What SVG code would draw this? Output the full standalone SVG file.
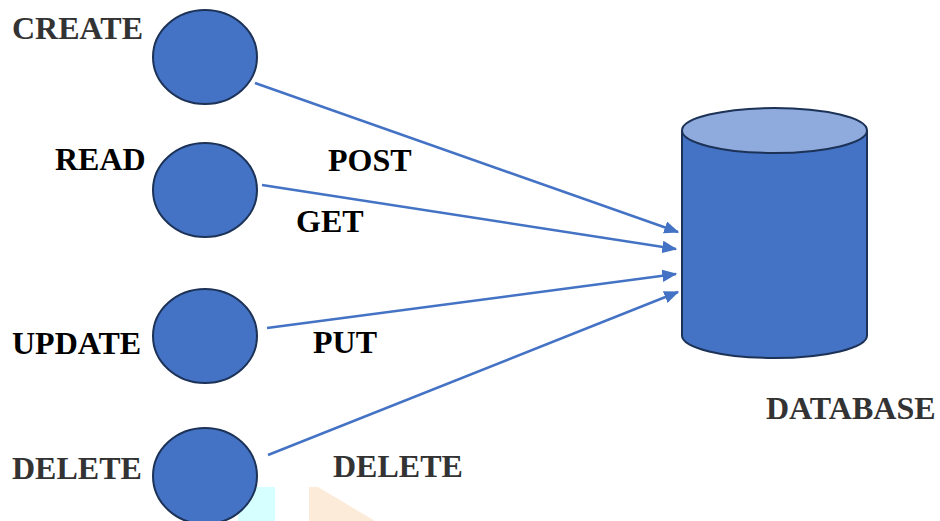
<svg xmlns="http://www.w3.org/2000/svg" width="940" height="521" viewBox="0 0 940 521">
<defs>
<style>
.node{fill:#4472c4;stroke:#1c3257;stroke-width:2}
.lbl{font-family:'Liberation Serif','Times New Roman',serif;font-weight:700;font-size:32px}
.g{fill:#333333}
.k{fill:#000000}
.conn{stroke:#4472c4;stroke-width:2.5;fill:none;marker-end:url(#ah)}
</style>
<marker id="ah" markerWidth="6" markerHeight="5" refX="5.5" refY="2.5" orient="auto" markerUnits="strokeWidth">
<path d="M0,0 L6,2.5 L0,5 Z" fill="#4472c4"/>
</marker>
</defs>
<rect width="940" height="521" fill="#ffffff"/>
<g id="artifacts">
<path d="M238,492 L244,487 L275,487 L275,521 L238,521 Z" fill="#d6ffff"/>
<path d="M309,487 L318,487 L375,521 L309,521 Z" fill="#fdebda"/>
</g>
<g id="connectors">
<line class="conn" x1="255" y1="83" x2="678" y2="232"/>
<line class="conn" x1="262" y1="185" x2="676" y2="249"/>
<line class="conn" x1="267" y1="328" x2="676" y2="274"/>
<line class="conn" x1="268" y1="455" x2="678" y2="292"/>
</g>
<g id="create">
<ellipse class="node" cx="205" cy="57" rx="52" ry="47"/>
<text class="lbl g" x="12" y="39">CREATE</text>
</g>
<g id="read">
<ellipse class="node" cx="205" cy="190" rx="52" ry="47"/>
<text class="lbl k" x="55" y="170">READ</text>
</g>
<g id="update">
<ellipse class="node" cx="205" cy="336" rx="52" ry="47"/>
<text class="lbl k" x="12" y="354">UPDATE</text>
</g>
<g id="delete">
<ellipse class="node" cx="205" cy="476" rx="52" ry="48"/>
<text class="lbl g" x="12" y="479">DELETE</text>
</g>
<g id="database">
<path class="node" d="M682,130.5 L682,335.5 A92.5,22.5 0 0 0 867,335.5 L867,130.5"/>
<ellipse cx="774.5" cy="130.5" rx="92.5" ry="22.5" fill="#8faadc" stroke="#1c3257" stroke-width="2"/>
<text class="lbl g" x="766" y="419">DATABASE</text>
</g>
<g id="edge-labels">
<text class="lbl k" x="328" y="171">POST</text>
<text class="lbl k" x="296" y="232">GET</text>
<text class="lbl k" x="313" y="353">PUT</text>
<text class="lbl g" x="333" y="477">DELETE</text>
</g>
</svg>
